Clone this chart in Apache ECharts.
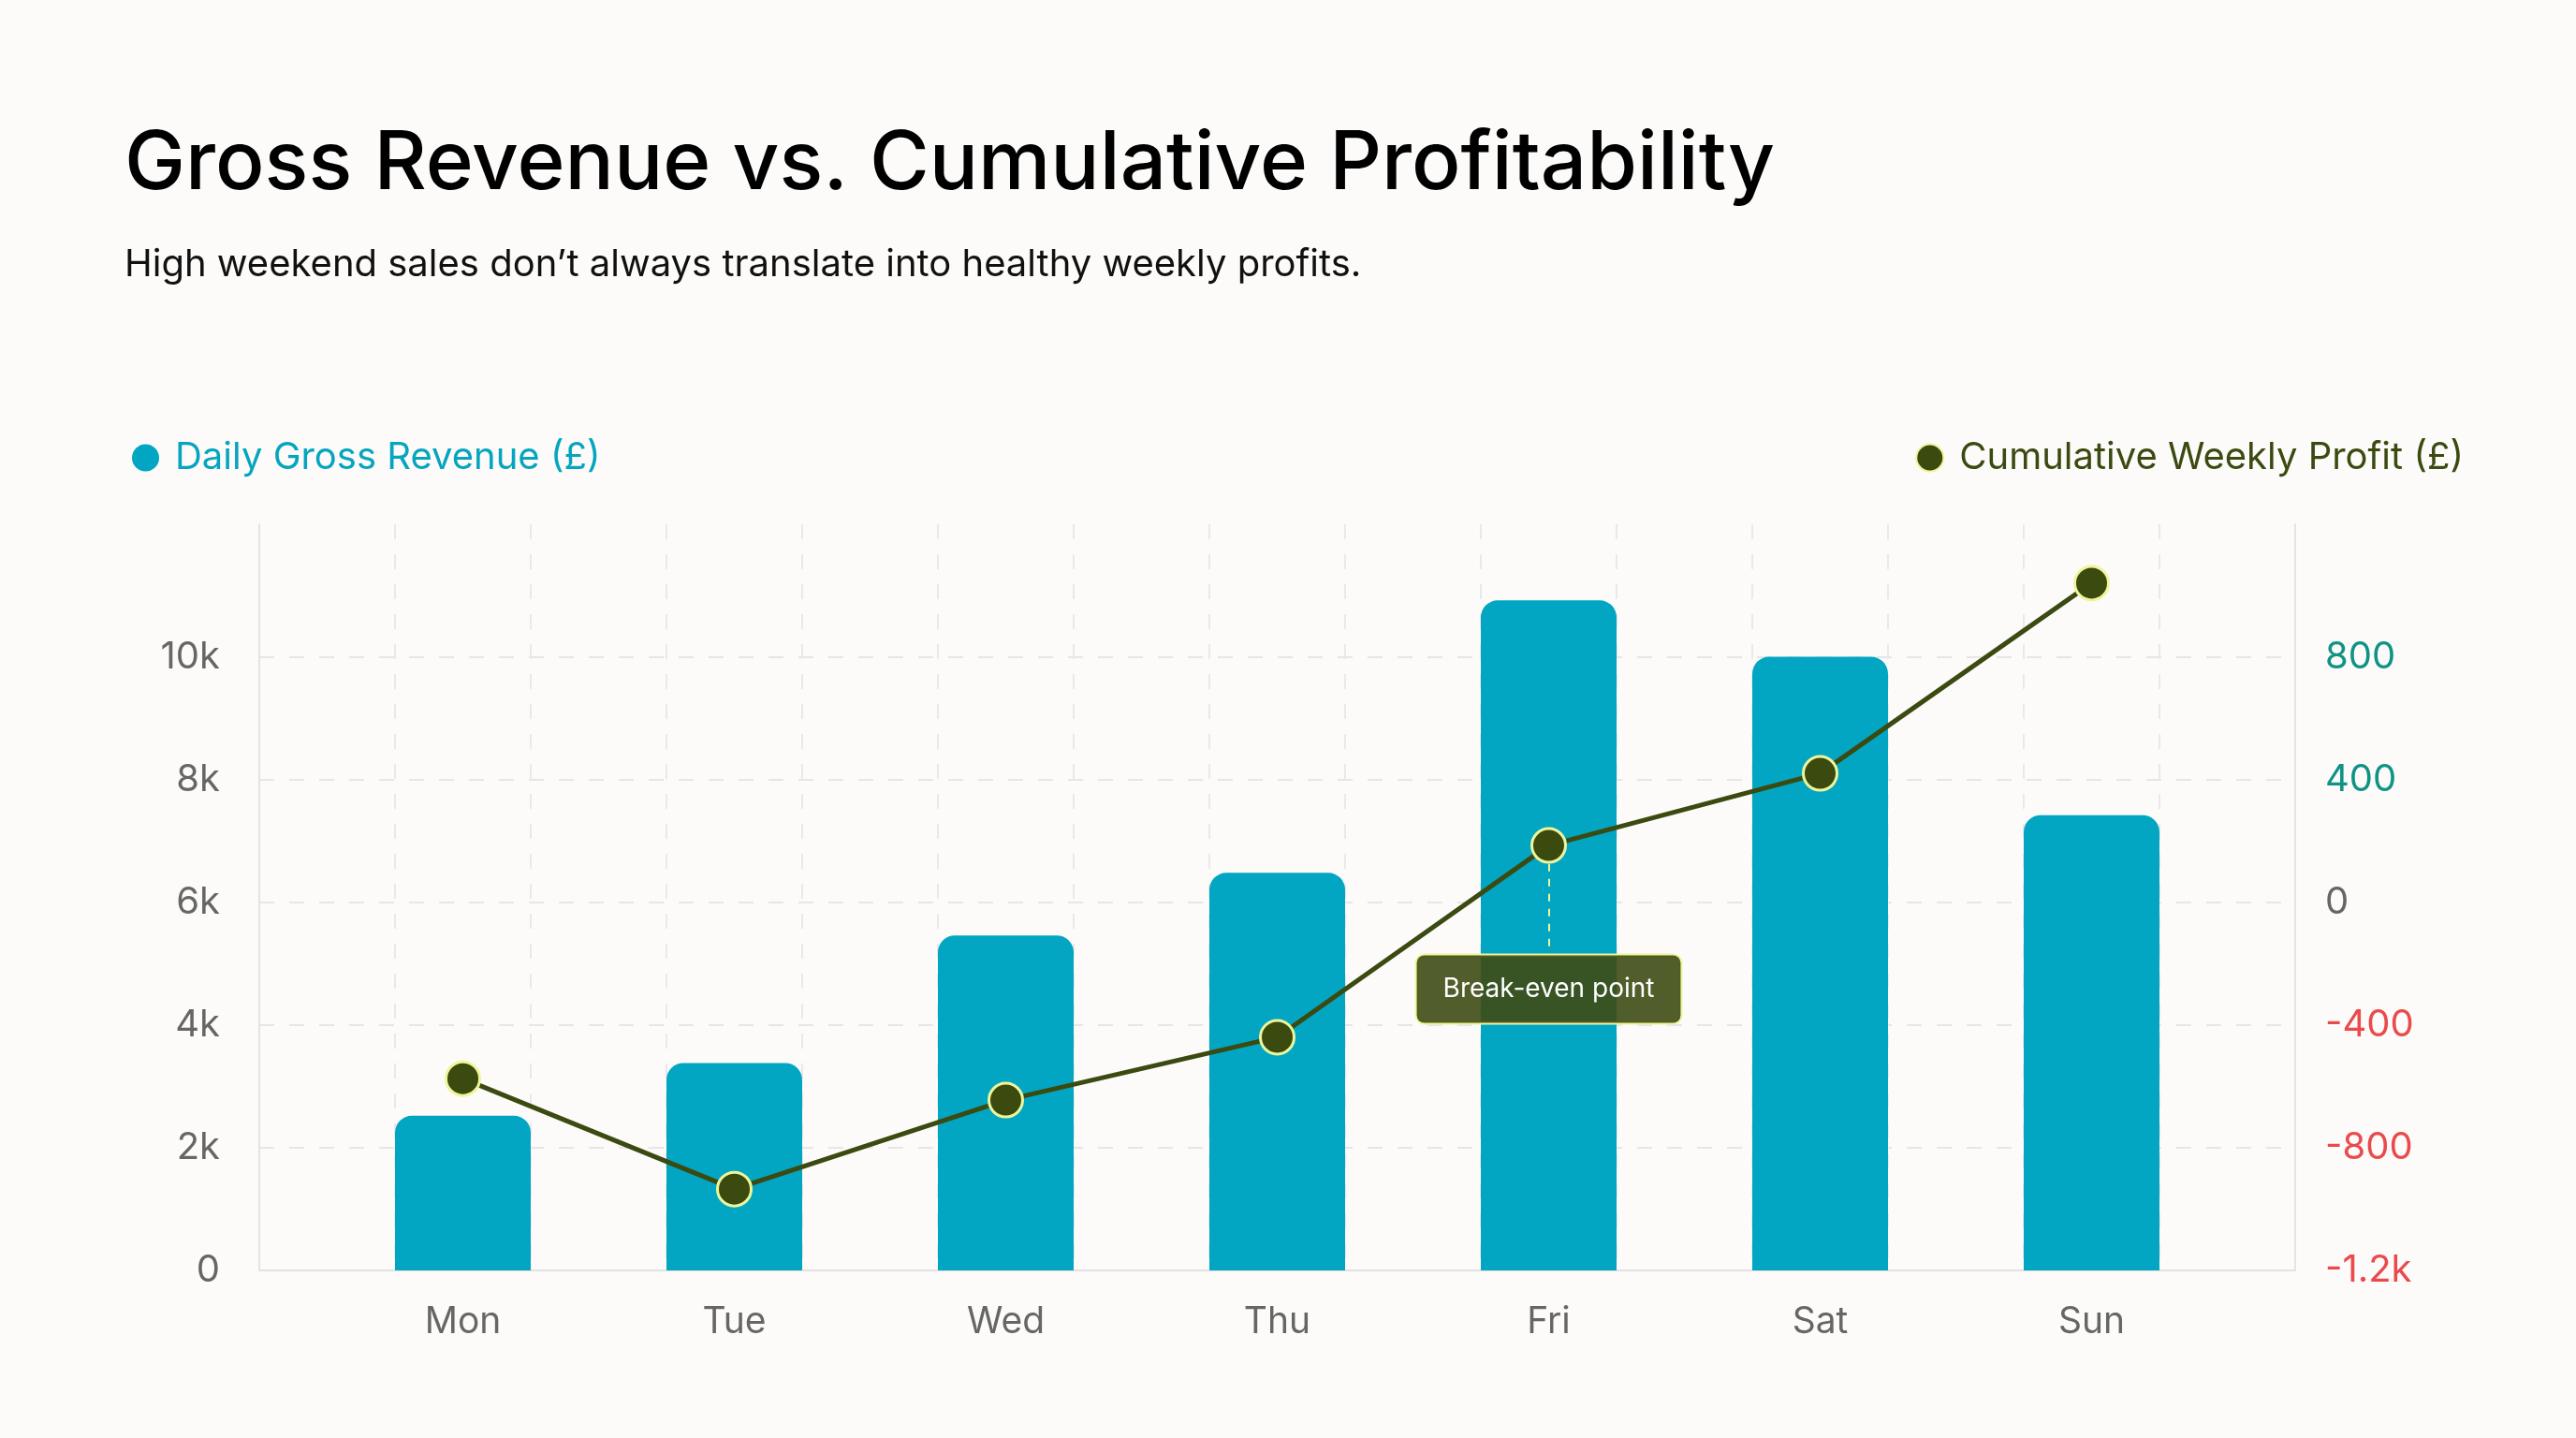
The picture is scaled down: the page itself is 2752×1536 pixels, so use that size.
<!DOCTYPE html>
<html>
<head>
<meta charset="utf-8">
<title>Gross Revenue vs. Cumulative Profitability</title>
<script src="https://cdn.jsdelivr.net/npm/echarts@6/dist/echarts.min.js"></script>
<style>
  html, body { margin: 0; padding: 0; background: #fcfbf9; }
  #chart-container { width: 2752px; height: 1536px; }
</style>
</head>
<body>
<div id="chart-container"></div>
<script>
// data
var days = ['Mon', 'Tue', 'Wed', 'Thu', 'Fri', 'Sat', 'Sun'];
var dailyRevenue = [2520, 3380, 5460, 6480, 10920, 10000, 7420];
var cumulativeProfit = [-575, -935, -645, -440, 185, 420, 1040];
var breakEvenDay = 4;
var breakEvenLabel = 'Break-even point';

var FONT = 'Inter';
var TEAL = '#02a6c2';
var OLIVE = '#3b4a0e';
var PALE = '#eef59a';

var dom = document.getElementById('chart-container');
var myChart = echarts.init(dom, null, { renderer: 'canvas' });

var option = {
  backgroundColor: '#fcfbf9',
  animation: false,
  title: {
    text: 'Gross Revenue vs. Cumulative Profitability',
    subtext: 'High weekend sales don\u2019t always translate into healthy weekly profits.',
    left: 128,
    top: 127,
    itemGap: 44,
    textStyle: { fontFamily: FONT, fontSize: 87, fontWeight: 500, color: '#000000' },
    subtextStyle: { fontFamily: FONT, fontSize: 40, color: '#111111' }
  },
  legend: [
    {
      data: ['Daily Gross Revenue (£)'],
      left: 136,
      top: 464,
      icon: 'circle',
      itemWidth: 29,
      itemHeight: 29,
      textStyle: { fontFamily: FONT, fontSize: 40, color: '#06a5bf', padding: [0, 0, 0, 12] }
    },
    {
      data: ['Cumulative Weekly Profit (£)'],
      right: 115,
      top: 464,
      icon: 'circle',
      itemWidth: 29,
      itemHeight: 29,
      textStyle: { fontFamily: FONT, fontSize: 40, color: '#3b4a10', padding: [0, 0, 0, 12] }
    }
  ],
  grid: {
    left: 277,
    right: 300,
    top: 560,
    bottom: 179,
    containLabel: false
  },
  xAxis: {
    type: 'value',
    min: -0.75,
    max: 6.75,
    interval: 0.5,
    axisLine: { show: true, onZero: false, lineStyle: { color: '#e2e2e2', width: 2 } },
    axisTick: { show: false },
    axisLabel: {
      customValues: days.map(function (d, i) { return i; }),
      formatter: function (v) { return days[v]; },
      fontFamily: FONT,
      fontSize: 39,
      color: '#666666',
      margin: 36
    },
    splitLine: {
      show: true,
      showMinLine: false,
      showMaxLine: false,
      lineStyle: { color: '#e9e9e9', width: 2, type: [16, 16] }
    }
  },
  yAxis: [
    {
      type: 'value',
      min: 0,
      max: 12160,
      interval: 2000,
      axisLine: { show: true, onZero: false, lineStyle: { color: '#e4e4e4', width: 2 } },
      axisTick: { show: false },
      axisLabel: {
        fontFamily: FONT,
        fontSize: 40,
        color: '#666666',
        margin: 42,
        padding: [6, 0, 0, 0],
        formatter: function (v) {
          if (v > 10000) return '';
          return v === 0 ? '0' : (v / 1000) + 'k';
        }
      },
      splitLine: {
        show: true,
        showMaxLine: false,
        lineStyle: {
          color: ['#e6e6e6', '#e6e6e6', '#e6e6e6', '#e6e6e6', '#e6e6e6', '#e6e6e6', 'rgba(0,0,0,0)'],
          width: 2,
          type: [16, 16]
        }
      }
    },
    {
      type: 'value',
      min: -1200,
      max: 1232,
      interval: 400,
      position: 'right',
      axisLine: { show: true, onZero: false, lineStyle: { color: '#e4e4e4', width: 2 } },
      axisTick: { show: false },
      splitLine: { show: false },
      axisLabel: {
        fontFamily: FONT,
        fontSize: 40,
        margin: 32,
        padding: [6, 0, 0, 0],
        color: function (v) {
          v = Number(v);
          if (v > 0) return '#0e9384';
          if (v < 0) return '#ea4a4c';
          return '#666666';
        },
        formatter: function (v) {
          if (v > 800) return '';
          return Math.abs(v) >= 1000 ? (v / 1000) + 'k' : String(v);
        }
      }
    }
  ],
  series: [
    {
      name: 'Daily Gross Revenue (£)',
      type: 'bar',
      yAxisIndex: 0,
      barWidth: '50%',
      itemStyle: { color: TEAL, borderRadius: [18, 18, 0, 0] },
      data: dailyRevenue.map(function (v, i) { return [i, v]; })
    },
    {
      name: 'Cumulative Weekly Profit (£)',
      type: 'line',
      yAxisIndex: 1,
      z: 5,
      symbol: 'circle',
      symbolSize: 36,
      lineStyle: { color: '#3b4a10', width: 5 },
      itemStyle: { color: OLIVE, borderColor: PALE, borderWidth: 3 },
      data: cumulativeProfit.map(function (v, i) { return [i, v]; }),
      markLine: {
        silent: true,
        symbol: ['none', 'none'],
        label: { show: false },
        lineStyle: { color: PALE, width: 2, type: [8, 8] },
        data: [[
          { coord: [breakEvenDay, cumulativeProfit[breakEvenDay] - 60] },
          { coord: [breakEvenDay, -166] }
        ]]
      },
      markPoint: {
        silent: true,
        symbol: 'rect',
        symbolSize: 1,
        itemStyle: { color: 'rgba(0,0,0,0)' },
        label: {
          show: true,
          position: 'inside',
          formatter: breakEvenLabel,
          fontFamily: FONT,
          fontSize: 28,
          color: '#ffffff',
          backgroundColor: 'rgba(62,75,20,0.9)',
          borderColor: PALE,
          borderWidth: 2,
          borderRadius: 8,
          padding: [22, 28]
        },
        data: [{ coord: [breakEvenDay, -283] }]
      }
    }
  ]
};

if (option && typeof option === 'object') {
  myChart.setOption(option);
}

window.addEventListener('resize', myChart.resize);
</script>
</body>
</html>
